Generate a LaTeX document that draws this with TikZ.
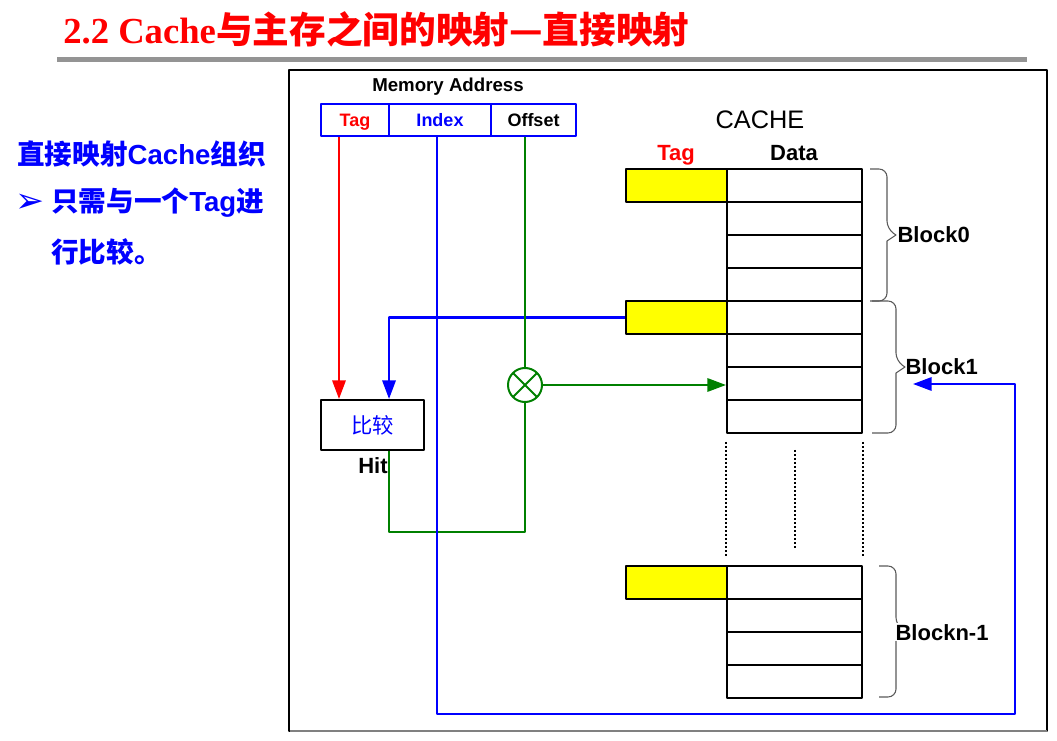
\documentclass[tikz,border=0pt]{standalone}
\usepackage{fontspec}
\setmainfont{Liberation Sans}
\newfontfamily\latin{Liberation Sans}
\newfontfamily\cjk{Noto Sans CJK SC}
\newfontfamily\titlefont{Liberation Serif}
\newfontfamily\symfont{DejaVu Sans}
\usepackage{tikz}
\usetikzlibrary{arrows.meta}

\definecolor{hitgreen}{RGB}{0,128,0}
\definecolor{pureblue}{RGB}{0,0,255}
\definecolor{purered}{RGB}{255,0,0}
\definecolor{tagyellow}{RGB}{255,255,0}

\begin{document}
\begin{tikzpicture}[x=0.75pt, y=-0.75pt, >={Triangle[length=14pt,width=10pt]}, line join=round,
		addr/.style={draw=pureblue, line width=1.5pt, minimum height=24pt, inner sep=0pt, text height=9.8pt, text depth=0pt, font=\fontsize{13.5}{15}\selectfont\bfseries},
		cell/.style={draw, line width=1.5pt, minimum width=101.25pt, minimum height=24.75pt, inner sep=0pt},
		tagcell/.style={cell, fill=tagyellow, minimum width=75.75pt},
		lbl/.style={font=\fontsize{16.5}{18}\selectfont\bfseries, text height=12pt, text depth=0pt},
		blk/.style={lbl, inner sep=1pt, anchor=west},
		brc/.style={draw=black!65, line width=0.8pt, rounded corners=6pt},
		lefttxt/.style={anchor=west, inner sep=0pt, text=pureblue, font=\fontsize{20.7}{22}\selectfont\bfseries},
		wire/.style={line width=1.7pt}]
		
		\useasboundingbox (0,0) rectangle (1057,741);
		
		% --- Parameter (Zeilen im Cache) ---
		\pgfmathsetmacro{\rh}{33}   % Zeilenhoehe
		
		% --- Titel ---
		\node[anchor=west, inner sep=0pt, text=purered, font=\fontsize{27.5}{29}\selectfont\bfseries] (title) at (63,29)
			{\titlefont 2.2 Cache\cjk 与主存之间的映射—直接映射};
		\draw[line width=3.75pt, black!42] (57,60) -- (1027,60);
		
		% --- Text links ---
		\node[lefttxt] (l1) at (17,154) {\cjk 直接映射\latin Cache\cjk 组织};
		\node[lefttxt, font=\fontsize{26}{28}\selectfont] (bullet) at (15,203) {\symfont ➢};
		\node[lefttxt] (l2) at (51,203) {\cjk 只需与一个\latin Tag\cjk 进};
		\node[lefttxt] (l3) at (51,252) {\cjk 行比较。};
		
		% --- Rahmen ---
		\draw[line width=1pt] (289,70) rectangle (1047,731);
		\draw[line width=2pt, black!50] (290,731) -- (1047,731);
		
		% --- Adresse ---
		\node[font=\fontsize{14}{16}\selectfont\bfseries] (memaddr) at (448,87) {Memory Address};
		\node[addr, minimum width=51pt, text=purered] (tag) at (355,120) {Tag};
		\node[addr, minimum width=76.5pt, text=pureblue] (idx) at (440,120) {Index};
		\node[addr, minimum width=63.75pt] (off) at (533.5,120) {Offset};
		
		% --- Cache ---
		\node[font=\fontsize{19}{21}\selectfont] (cachelbl) at (760,120) {CACHE};
		\node[lbl, text=purered] (taglbl) at (676,153) {Tag};
		\node[lbl] (datalbl) at (794,153) {Data};
		
		\foreach \r in {0,...,3} {
			\node[cell] (b0r\r) at (794.5,{185.5+\rh*\r}) {};
			\node[cell] (b1r\r) at (794.5,{317.5+\rh*\r}) {};
			\node[cell] (bnr\r) at (794.5,{582.5+\rh*\r}) {};
		}
		\node[tagcell] (b0t) at (676.5,185.5) {};
		\node[tagcell] (b1t) at (676.5,317.5) {};
		\node[tagcell] (bnt) at (676.5,582.5) {};
		
		% Punkte zwischen Block1 und Blockn-1
		\draw[line width=1.5pt, dash pattern=on 1.5pt off 1.5pt]
			([yshift=-6pt]b1r3.south west) -- ([yshift=6.75pt]bnr0.north west)
			([yshift=-6pt]b1r3.south east) -- ([yshift=6.75pt]bnr0.north east)
			([yshift=-12pt]b1r3.south) -- ([yshift=12.75pt]bnr0.north);
		
		% --- Klammern (oben/unten/Anfang/Senkrechte) ---
		\foreach \top/\bot/\xs/\xv in {169/301/870/887, 301/433/872/896, 566/697/879/896} {
			\draw[brc] (\xs,\top) -- (\xv,\top) -- (\xv,{(\top+\bot)/2-6})
				[sharp corners] -- ({\xv+9},{(\top+\bot)/2}) -- (\xv,{(\top+\bot)/2+6})
				[rounded corners=6pt] -- (\xv,\bot) -- (\xs,\bot);
		}
		\node[blk] (blk0) at (896,235) {Block0};
		\node[blk] (blk1) at (904,367) {Block1};
		\node[blk, fill=white] (blkn) at (894,632) {Blockn-1};
		
		% --- Vergleich ---
		\node[draw, line width=1.5pt, minimum width=77.25pt, minimum height=37.5pt, text=pureblue,
			font=\cjk\fontsize{16}{18}\selectfont] (cmp) at (372.5,425) {比较};
		\node[lbl] (hit) at (373,466) {Hit};
		\node[circle, draw=hitgreen, line width=1.5pt, minimum size=25.5pt, inner sep=0pt,
			path picture={\draw[hitgreen, line width=1.5pt]
				(path picture bounding box.north west) -- (path picture bounding box.south east)
				(path picture bounding box.north east) -- (path picture bounding box.south west);}] (xor) at (525,385) {};
		
		\coordinate (tagout) at ([xshift=-12pt]tag.south);
		\coordinate (idxout) at ([xshift=-2.25pt]idx.south);
		\coordinate (cmpin) at ([xshift=12.4pt]cmp.north);
		\coordinate (cmpout) at ([xshift=12.4pt]cmp.south);
		\coordinate (loopbr) at (1015,714);
		\coordinate (b1in) at (913,384);
		
		% --- Leitungen ---
		\draw[wire, purered, ->] (tagout) -- (tagout |- cmp.north);
		\draw[wire, pureblue, ->] (b1t.west) -| (cmpin);
		\draw[wire, hitgreen] (off.south -| xor.north) -- (xor.north);
		\draw[wire, hitgreen, ->] (xor.east) -- (xor.east -| b1r2.west);
		\draw[wire, hitgreen] (xor.south) -- ++(0,129) -| (cmpout);
		\draw[wire, pureblue, ->] (idxout) |- (loopbr) |- (b1in);
		
	\end{tikzpicture}
\end{document}
